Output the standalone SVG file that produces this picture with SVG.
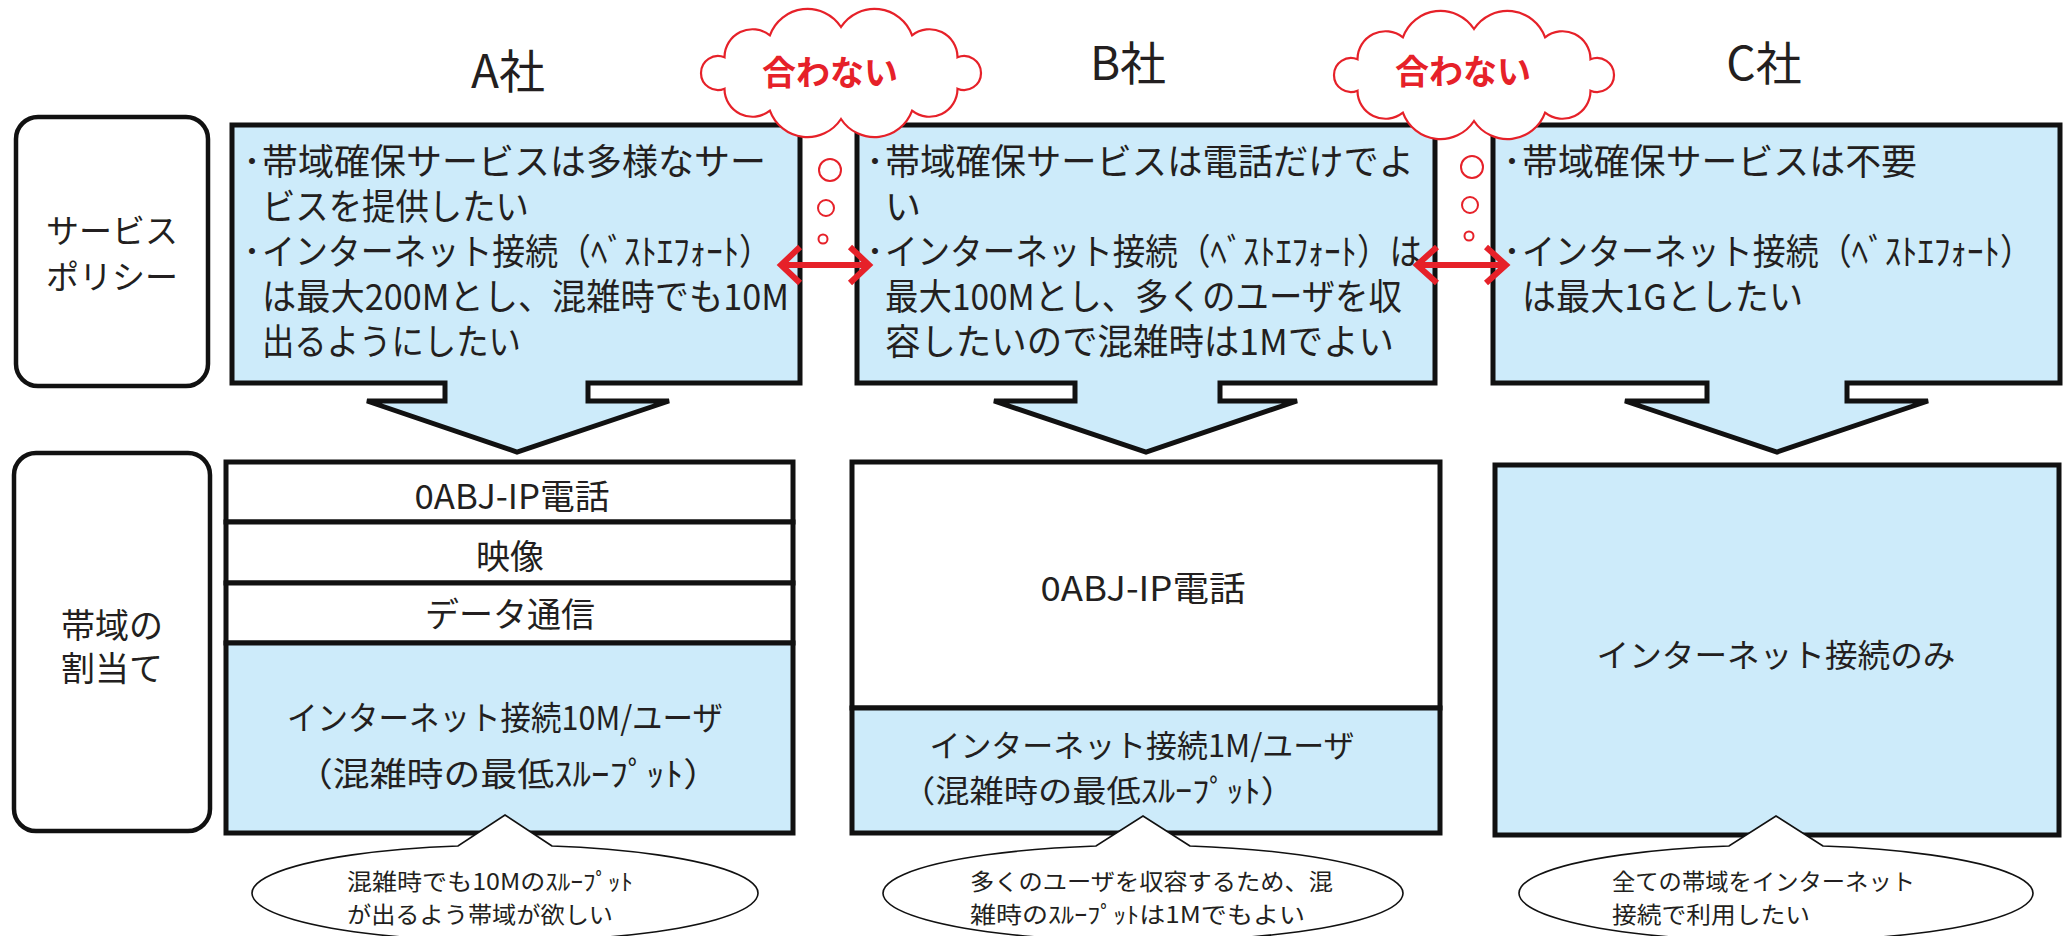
<svg xmlns="http://www.w3.org/2000/svg" xmlns:xlink="http://www.w3.org/1999/xlink" width="2067" height="936" viewBox="0 0 2067 936">
<style>
  text { font-family: "Noto Sans CJK JP", "Noto Sans", sans-serif; fill: #231F20; }
  .hdr { font-size: 46px; text-anchor: middle; }
  .lbl { font-size: 33px; text-anchor: middle; }
  .pol { font-size: 36px; }
  .row { font-size: 34px; text-anchor: middle; }
  .mid { text-anchor: middle; }
  .call { font-size: 23px; }
  .ng { font-size: 34px; font-weight: bold; fill: #E62129; text-anchor: middle; }
  .lbox { fill: #fff; stroke: #111; stroke-width: 4.5; }
  .pbox { fill: #CDEBFA; stroke: #111; stroke-width: 5; stroke-linejoin: miter; }
  .wcell { fill: #fff; stroke: #111; stroke-width: 5; }
  .bcell { fill: #CDEBFA; stroke: #111; stroke-width: 5; }
  .bubble { fill: #fff; stroke: #111; stroke-width: 1.6; }
  .cloud { fill: #fff; stroke: #E62129; stroke-width: 2.2; }
  .dot { fill: #fff; stroke: #E62129; stroke-width: 2; }
  .dbl { fill: none; stroke: #E62129; stroke-width: 6; stroke-linejoin: miter; }
</style>
<defs>
  <path id="cloudShape" d="M-116.5,15.7 A17,17 0 1 1 -116.5,-15.7 A28,28 0 0 1 -71.1,-37.7 A40,40 0 0 1 0,-46 A40,40 0 0 1 71.1,-37.7 A28,28 0 0 1 116.5,-15.7 A17,17 0 1 1 116.5,15.7 A28,28 0 0 1 71.1,37.7 A40,40 0 0 1 0,46 A40,40 0 0 1 -71.1,37.7 A28,28 0 0 1 -116.5,15.7 Z"/>
</defs>
<rect width="2067" height="936" fill="#fff"/>

<!-- headers -->
<g id="headers">
  <text class="hdr" x="508" y="88">A社</text>
  <text class="hdr" x="1128" y="80">B社</text>
  <text class="hdr" x="1764" y="80">C社</text>
</g>

<!-- row labels -->
<g id="label-policy">
  <rect class="lbox" x="16" y="117" width="192" height="269" rx="22"/>
  <text class="lbl" x="112" y="243">サービス</text>
  <text class="lbl" x="112" y="289">ポリシー</text>
</g>
<g id="label-alloc">
  <rect class="lbox" x="14" y="453" width="196" height="378" rx="22"/>
  <text class="lbl" x="112" y="638" style="font-size:34px">帯域の</text>
  <text class="lbl" x="112" y="681" style="font-size:34px">割当て</text>
</g>

<!-- policy boxes with down arrows -->
<g id="policy-A">
  <path class="pbox" d="M232,125 H800 V383 H588 V401 H669 L517,452 L367,401 H445 V383 H232 Z"/>
  <text class="pol" x="243" y="175">･</text>
  <text class="pol" x="262" y="175" textLength="504" lengthAdjust="spacingAndGlyphs">帯域確保サービスは多様なサー</text>
  <text class="pol" x="262" y="220" textLength="267" lengthAdjust="spacingAndGlyphs">ビスを提供したい</text>
  <text class="pol" x="243" y="265">･</text>
  <text class="pol" x="262" y="265" textLength="510" lengthAdjust="spacingAndGlyphs">インターネット接続（ﾍﾞｽﾄｴﾌｫｰﾄ）</text>
  <text class="pol" x="262" y="310" textLength="527" lengthAdjust="spacingAndGlyphs">は最大200Mとし、混雑時でも10M</text>
  <text class="pol" x="262" y="355" textLength="259" lengthAdjust="spacingAndGlyphs">出るようにしたい</text>
</g>
<g id="policy-B">
  <path class="pbox" d="M857,125 H1435 V383 H1220 V401 H1297 L1146,452 L994,401 H1075 V383 H857 Z"/>
  <text class="pol" x="866" y="175">･</text>
  <text class="pol" x="885" y="175" textLength="529" lengthAdjust="spacingAndGlyphs">帯域確保サービスは電話だけでよ</text>
  <text class="pol" x="885" y="220">い</text>
  <text class="pol" x="866" y="265">･</text>
  <text class="pol" x="885" y="265" textLength="537" lengthAdjust="spacingAndGlyphs">インターネット接続（ﾍﾞｽﾄｴﾌｫｰﾄ）は</text>
  <text class="pol" x="885" y="310" textLength="517" lengthAdjust="spacingAndGlyphs">最大100Mとし、多くのユーザを収</text>
  <text class="pol" x="885" y="355" textLength="509" lengthAdjust="spacingAndGlyphs">容したいので混雑時は1Mでよい</text>
</g>
<g id="policy-C">
  <path class="pbox" d="M1493,125 H2060 V383 H1847 V401 H1928 L1777,452 L1625,401 H1707 V383 H1493 Z"/>
  <text class="pol" x="1503" y="175">･</text>
  <text class="pol" x="1522" y="175" textLength="395" lengthAdjust="spacingAndGlyphs">帯域確保サービスは不要</text>
  <text class="pol" x="1503" y="265">･</text>
  <text class="pol" x="1522" y="265" textLength="511" lengthAdjust="spacingAndGlyphs">インターネット接続（ﾍﾞｽﾄｴﾌｫｰﾄ）</text>
  <text class="pol" x="1522" y="310" textLength="281" lengthAdjust="spacingAndGlyphs">は最大1Gとしたい</text>
</g>

<!-- bandwidth allocation boxes -->
<g id="alloc-A">
  <rect class="wcell" x="226" y="462" width="567" height="60"/>
  <rect class="wcell" x="226" y="522" width="567" height="61"/>
  <rect class="wcell" x="226" y="583" width="567" height="60"/>
  <rect class="bcell" x="226" y="643" width="567" height="190"/>
  <text class="row" x="512" y="509" textLength="195" lengthAdjust="spacingAndGlyphs">0ABJ-IP電話</text>
  <text class="row" x="510" y="569">映像</text>
  <text class="row" x="510" y="627">データ通信</text>
  <text class="mid" x="505" y="730" style="font-size:33px" textLength="436" lengthAdjust="spacingAndGlyphs">インターネット接続10M/ユーザ</text>
  <text class="mid" x="508" y="786" style="font-size:33px" textLength="424" lengthAdjust="spacingAndGlyphs">（混雑時の最低ｽﾙｰﾌﾟｯﾄ）</text>
</g>
<g id="alloc-B">
  <rect class="wcell" x="852" y="462" width="588" height="246"/>
  <rect class="bcell" x="852" y="708" width="588" height="125"/>
  <text class="row" x="1143" y="601" textLength="205" lengthAdjust="spacingAndGlyphs">0ABJ-IP電話</text>
  <text class="mid" x="1142" y="757" style="font-size:31px" textLength="425" lengthAdjust="spacingAndGlyphs">インターネット接続1M/ユーザ</text>
  <text class="mid" x="1098" y="802" style="font-size:31px" textLength="394" lengthAdjust="spacingAndGlyphs">（混雑時の最低ｽﾙｰﾌﾟｯﾄ）</text>
</g>
<g id="alloc-C">
  <rect class="bcell" x="1495" y="465" width="564" height="370"/>
  <text class="mid" x="1776" y="667" style="font-size:32px" textLength="359" lengthAdjust="spacingAndGlyphs">インターネット接続のみ</text>
</g>

<!-- callouts -->
<g id="callout-A">
  <path class="bubble" d="M552,846 L505,815 L458,846 A253,48 0 1 0 552,846 Z"/>
  <text class="call" x="347" y="890" textLength="286" lengthAdjust="spacingAndGlyphs">混雑時でも10Mのｽﾙｰﾌﾟｯﾄ</text>
  <text class="call" x="347" y="923" textLength="266" lengthAdjust="spacingAndGlyphs">が出るよう帯域が欲しい</text>
</g>
<g id="callout-B">
  <path class="bubble" d="M1190,846 L1143,816 L1096,846 A260,48 0 1 0 1190,846 Z"/>
  <text class="call" x="970" y="890" textLength="363" lengthAdjust="spacingAndGlyphs">多くのユーザを収容するため、混</text>
  <text class="call" x="970" y="923" textLength="335" lengthAdjust="spacingAndGlyphs">雑時のｽﾙｰﾌﾟｯﾄは1Mでもよい</text>
</g>
<g id="callout-C">
  <path class="bubble" d="M1823,846 L1776,816 L1729,846 A257,48 0 1 0 1823,846 Z"/>
  <text class="call" x="1612" y="890" textLength="303" lengthAdjust="spacingAndGlyphs">全ての帯域をインターネット</text>
  <text class="call" x="1612" y="923" textLength="198" lengthAdjust="spacingAndGlyphs">接続で利用したい</text>
</g>

<!-- mismatch clouds -->
<g id="cloud-AB">
  <use xlink:href="#cloudShape" href="#cloudShape" class="cloud" transform="translate(841,73)"/>
  <text class="ng" x="830" y="85">合わない</text>
  <circle class="dot" cx="830" cy="170" r="11"/>
  <circle class="dot" cx="826" cy="208" r="8"/>
  <circle class="dot" cx="823" cy="239" r="4.5"/>
</g>
<g id="cloud-BC">
  <use xlink:href="#cloudShape" href="#cloudShape" class="cloud" transform="translate(1474,75)"/>
  <text class="ng" x="1463" y="84">合わない</text>
  <circle class="dot" cx="1472" cy="167" r="11"/>
  <circle class="dot" cx="1470" cy="205" r="8"/>
  <circle class="dot" cx="1469" cy="236" r="4.5"/>
</g>

<!-- connectors -->
<g id="connectors">
  <path class="dbl" d="M781,265 H869 M800,247 L781,265 L800,283 M850,247 L869,265 L850,283"/>
  <path class="dbl" d="M1417,265 H1506 M1437,247 L1417,265 L1437,283 M1486,247 L1506,265 L1486,283"/>
</g>
</svg>
